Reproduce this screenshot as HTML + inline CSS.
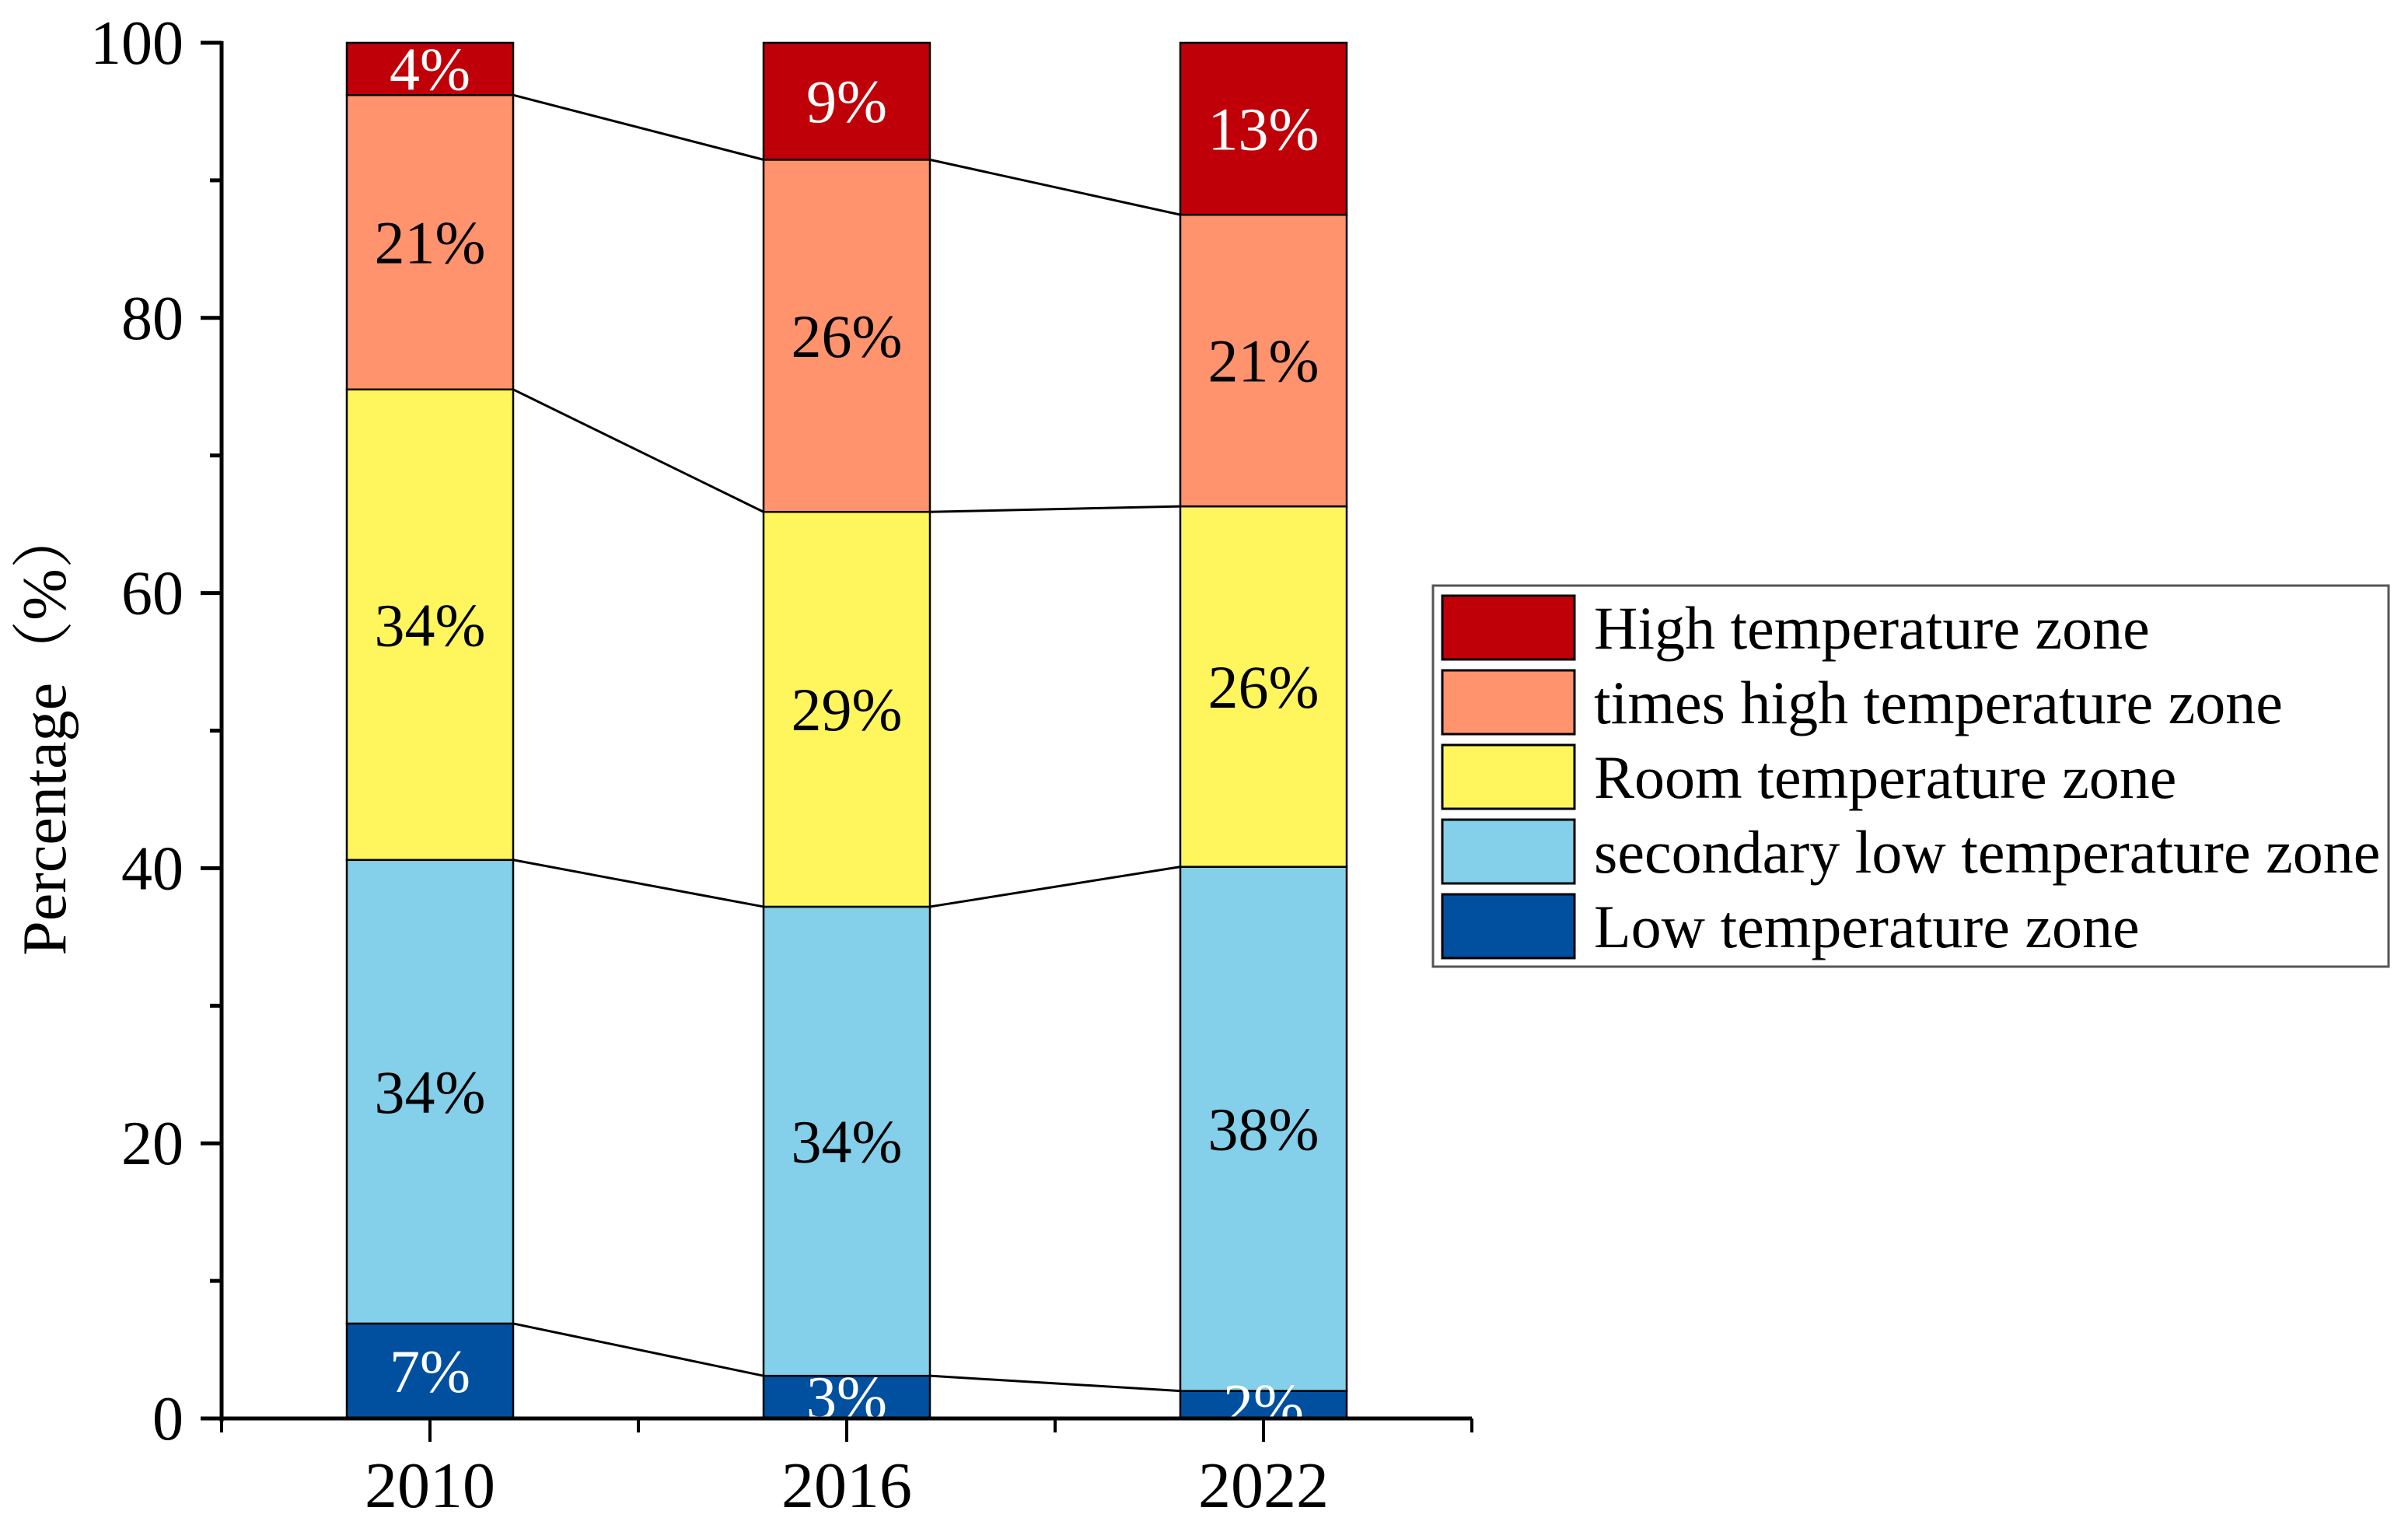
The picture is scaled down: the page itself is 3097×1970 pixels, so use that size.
<!DOCTYPE html>
<html><head><meta charset="utf-8"><style>body{margin:0;background:#fff}svg{display:block}</style></head>
<body>
<svg id="chart" width="3097" height="1970" viewBox="0 0 3097 1970" xmlns="http://www.w3.org/2000/svg" font-family="'Liberation Serif', serif">
<defs><clipPath id="plotclip"><rect x="0" y="0" width="3097" height="1824"/></clipPath></defs>
<g id="bars" clip-path="url(#plotclip)"></g>
<g id="axes"></g>
<g id="legend"></g>
</svg>
<script>
const categories = ['2010', '2016', '2022'];
const seriesNames = ['Low temperature zone', 'secondary low temperature zone', 'Room temperature zone', 'times high temperature zone', 'High temperature zone'];
const lowVals = [6.9, 3.1, 2.0];
const secLowVals = [33.7, 34.1, 38.1];
const roomVals = [34.2, 28.7, 26.2];
const timesHighVals = [21.4, 25.6, 21.2];
const highVals = [3.8, 8.5, 12.5];
const lowLabels = ['7%', '3%', '2%'];
const secLowLabels = ['34%', '34%', '38%'];
const roomLabels = ['34%', '29%', '26%'];
const timesHighLabels = ['21%', '26%', '21%'];
const highLabels = ['4%', '9%', '13%'];
const yTicks = [0, 20, 40, 60, 80, 100];

const NS = 'http://www.w3.org/2000/svg';
const colors = ['#00509f', '#84cfe9', '#fff65d', '#ff936d', '#c00008'];
const textColors = ['#fff', '#000', '#000', '#000', '#fff'];
const series = [lowVals, secLowVals, roomVals, timesHighVals, highVals];
const labels = [lowLabels, secLowLabels, roomLabels, timesHighLabels, highLabels];
const slugs = ['low', 'secondary-low', 'room', 'times-high', 'high'];
const Y0 = 1824, Y100 = 55;
function yScale(v) { return Y0 - (Y0 - Y100) * v / 100; }
const XL = 285, XR = 1893;
function xScale(i) { return XL + (XR - XL) * (i + 0.5) / categories.length; }
const barW = 214;
function mk(tag, attrs, parent) { const e = document.createElementNS(NS, tag); for (const k in attrs) e.setAttribute(k, attrs[k]); parent.appendChild(e); return e; }

const gb = document.getElementById('bars');
const cum = categories.map(() => [0]);
categories.forEach((c, i) => { let s = 0; series.forEach(sr => { s += sr[i]; cum[i].push(s); }); });
for (let k = 1; k < series.length; k++) {
  for (let i = 0; i < categories.length - 1; i++) {
    const l = mk('line', {x1: xScale(i) + barW / 2, y1: yScale(cum[i][k]), x2: xScale(i + 1) - barW / 2, y2: yScale(cum[i + 1][k]), stroke: '#000', 'stroke-width': 3}, gb);
    
    
  }
}
categories.forEach((c, i) => {
  series.forEach((sr, k) => {
    const y1 = yScale(cum[i][k + 1]), y2 = yScale(cum[i][k]);
    const r = mk('rect', {x: xScale(i) - barW / 2, y: y1, width: barW, height: y2 - y1, fill: colors[k], stroke: '#000', 'stroke-width': 2.5}, gb);
    
    
  });
  series.forEach((sr, k) => {
    const yc = (yScale(cum[i][k + 1]) + yScale(cum[i][k])) / 2;
    const t = mk('text', {x: xScale(i), y: yc + 27, 'text-anchor': 'middle', 'font-size': 78, fill: textColors[k]}, gb);
    t.textContent = labels[k][i];
    
    
  });
});

const ga = document.getElementById('axes');
const ya = mk('line', {x1: XL, y1: Y100 - 2, x2: XL, y2: Y0 + 4, stroke: '#000', 'stroke-width': 5}, ga);


const xa = mk('line', {x1: XL - 2, y1: Y0, x2: XR, y2: Y0, stroke: '#000', 'stroke-width': 5}, ga);


for (let v = 0; v <= 100; v += 10) {
  const major = v % 20 === 0;
  const tk = mk('line', {x1: XL - (major ? 27 : 15), y1: yScale(v), x2: XL, y2: yScale(v), stroke: '#000', 'stroke-width': 5}, ga);
  
  
}
yTicks.forEach(v => {
  const t = mk('text', {x: 236, y: yScale(v) + 27, 'text-anchor': 'end', 'font-size': 80}, ga);
  t.textContent = v;
  
  
});
for (let j = 0; j <= categories.length * 2; j++) {
  const x = XL + (XR - XL) * j / (categories.length * 2);
  const major = j % 2 === 1;
  const tk = mk('line', {x1: x, y1: Y0, x2: x, y2: Y0 + (major ? 30 : 18), stroke: '#000', 'stroke-width': 4}, ga);
  
  
}
categories.forEach((c, i) => {
  const t = mk('text', {x: xScale(i), y: 1938, 'text-anchor': 'middle', 'font-size': 84}, ga);
  t.textContent = c;
  
  
});
const yt = mk('text', {x: 0, y: 0, 'text-anchor': 'middle', 'font-size': 80, transform: 'translate(84,940) rotate(-90)', 'font-family': "'Liberation Serif','Noto Serif CJK SC',serif"}, ga);
yt.textContent = 'Percentage（%）';



const gl = document.getElementById('legend');
const lb = mk('rect', {x: 1843, y: 753, width: 1229, height: 490, fill: '#fff', stroke: '#555', 'stroke-width': 3}, gl);


for (let r = 0; r < 5; r++) {
  const k = 4 - r;
  const y = 766 + r * 96;
  const g = mk('g', {}, gl);
  
  
  mk('rect', {x: 1855, y: y, width: 170, height: 82, fill: colors[k], stroke: '#000', 'stroke-width': 3}, g);
  const t = mk('text', {x: 2050, y: y + 68, 'font-size': 78}, g);
  t.textContent = seriesNames[k];
}
</script>
</body></html>
